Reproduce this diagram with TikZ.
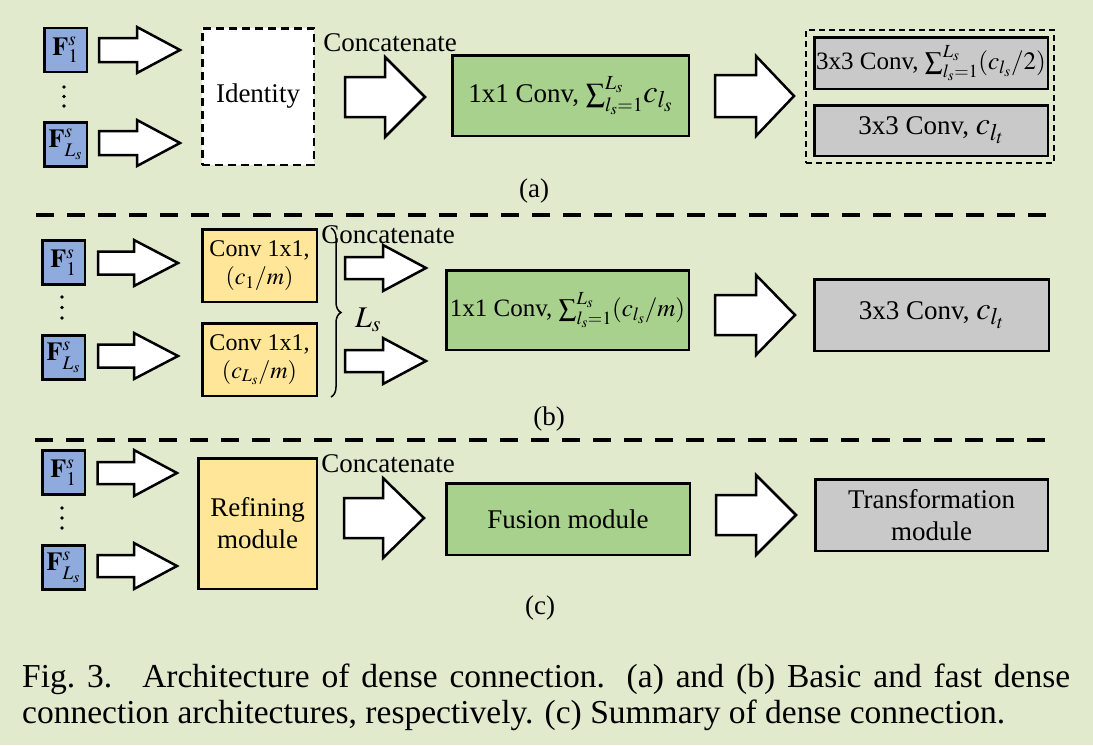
\documentclass[tikz,border=0pt]{standalone}
\usepackage{mathptmx}
\usepackage{fontspec}
\setmainfont{Liberation Serif}
\usetikzlibrary{decorations.pathreplacing}
\definecolor{bgc}{HTML}{E2EACE}
\definecolor{blueF}{HTML}{8FAADC}
\definecolor{greenF}{HTML}{A9D18E}
\definecolor{yellowF}{HTML}{FFE699}
\definecolor{grayF}{HTML}{C9C9C9}
\newcommand\blkarrow[6]{\draw[barrow] (#1,{#4-#5}) -- (#2,{#4-#5}) -- (#2,{#4-#6}) -- (#3,#4) -- (#2,{#4+#6}) -- (#2,{#4+#5}) -- (#1,{#4+#5}) -- cycle;}
\newcommand\bigc[1]{{\fontsize{32}{36}\selectfont$c_{#1}$}}
\newcommand\FLs{$\mathbf{F}^{s}_{\raisebox{-3pt}{$\scriptstyle L_s$}}$}
\tikzset{
  box/.style={draw=black, line width=2.5pt, inner sep=0pt, align=center, font=\fontsize{27}{32}\selectfont},
  bluebox/.style={box, fill=blueF, minimum width=42.5pt, minimum height=44pt, font=\fontsize{26}{30}\selectfont},
  greenbox/.style={box, fill=greenF},
  yellowbox/.style={box, fill=yellowF},
  graybox/.style={box, fill=grayF},
  identbox/.style={box, fill=white, dash pattern=on 8pt off 5pt},
  outerdash/.style={draw=black, line width=1.8pt, dash pattern=on 6pt off 4pt, inner sep=0pt},
  barrow/.style={draw=black, fill=white, line width=2.5pt, line join=miter},
  lbl/.style={inner sep=0pt, font=\fontsize{27}{32}\selectfont},
  sep/.style={line width=4.5pt, dash pattern=on 18pt off 13pt},
  dotf/.style={fill=black},
  brc/.style={decorate, decoration={brace, amplitude=10pt}, line width=1.5pt},
}
\begin{document}
\begin{tikzpicture}[x=1pt,y=-1pt]
\fill[bgc] (0,0) rectangle (1093,745);
\useasboundingbox (0,0) rectangle (1093,745);

% ---------------- (a)
\node[bluebox] (a1) at (65.5,50) {$\mathbf{F}^{s}_{1}$};
\node[bluebox] (aL) at (65.5,144.5) {\FLs};
\foreach \yy in {87,96.5,106} \fill[dotf] (64,\yy) circle (1.8);
\blkarrow{99}{137}{180}{50}{12}{23}
\blkarrow{99}{137}{180}{143}{12}{23}
\node[identbox, minimum width=111.5pt, minimum height=136.5pt] (aid) at (258,96.5) {Identity};
\node[lbl, anchor=base] (acat) at (390,51) {Concatenate};
\blkarrow{345}{385}{425}{97}{20}{40}
\node[greenbox, minimum width=236.5pt, minimum height=80.5pt] (agr) at (570.5,95.5) {1x1 Conv, $\textstyle\sum_{l_s=1}^{L_s}$\bigc{l_s}};
\blkarrow{715}{756}{794}{96}{21}{40}
\node[outerdash, minimum width=248pt, minimum height=133pt] (aout) at (930,96.5) {};
\node[graybox, minimum width=233.5pt, minimum height=51.5pt, font=\fontsize{25}{30}\selectfont] (ag1) at (931,63) {3x3 Conv, $\textstyle\sum_{l_s=1}^{L_s}(c_{l_s}/2)$};
\node[graybox, minimum width=233.5pt, minimum height=50.5pt] (ag2) at (931,130.5) {3x3 Conv, \bigc{l_t}};
\node[lbl, anchor=base] (alab) at (534,197) {(a)};

\draw[sep] (36,215) -- (1055,215);

% ---------------- (b)
\node[bluebox] (b1) at (63.5,262.5) {$\mathbf{F}^{s}_{1}$};
\node[bluebox] (bL) at (63.5,357.5) {\FLs};
\foreach \yy in {297,307.5,318} \fill[dotf] (62,\yy) circle (1.8);
\blkarrow{98}{134}{178}{263}{11.5}{23}
\blkarrow{98}{134}{178}{356}{11.5}{23}
\node[yellowbox, minimum width=114.5pt, minimum height=72.5pt, font=\fontsize{24}{28}\selectfont] (by1) at (259.5,265.5) {Conv 1x1,\\$(c_1/m)$};
\node[yellowbox, minimum width=114.5pt, minimum height=72.5pt, font=\fontsize{24}{28}\selectfont] (by2) at (259.5,359.5) {Conv 1x1,\\$(c_{L_s}/m)$};
\coordinate (bbt) at (331,228);
\coordinate (bbb) at (331,397);
\draw[brc] (bbt) -- (bbb);
\node[lbl, font=\fontsize{30}{34}\selectfont] (bLs) at (368,320) {$L_s$};
\node[lbl, anchor=base] (bcat) at (388,243) {Concatenate};
\blkarrow{345}{383}{426}{268}{11}{23}
\blkarrow{345}{383}{426}{361}{11}{23}
\node[greenbox, minimum width=242.5pt, minimum height=79.5pt, font=\fontsize{25}{30}\selectfont] (bgr) at (567.5,310) {1x1 Conv, $\textstyle\sum_{l_s=1}^{L_s}(c_{l_s}/m)$};
\blkarrow{715}{756}{795}{315}{20}{40}
\node[graybox, minimum width=234.5pt, minimum height=71.5pt] (bg) at (931.5,315) {3x3 Conv, \bigc{l_t}};
\node[lbl, anchor=base] (blab) at (549,425) {(b)};

\draw[sep] (35,440) -- (1051,440);

% ---------------- (c)
\node[bluebox] (c1) at (63.5,472.5) {$\mathbf{F}^{s}_{1}$};
\node[bluebox] (cL) at (63.5,567.5) {\FLs};
\foreach \yy in {508,518,528} \fill[dotf] (62,\yy) circle (1.8);
\blkarrow{97.5}{134}{177}{473}{11}{23}
\blkarrow{97.5}{134}{177}{566}{11}{23}
\node[yellowbox, minimum width=118.5pt, minimum height=130.5pt] (cy) at (257.5,523.5) {Refining\\module};
\node[lbl, anchor=base] (ccat) at (388,472) {Concatenate};
\blkarrow{344}{383}{424}{518}{20}{40}
\node[greenbox, minimum width=243.5pt, minimum height=71.5pt] (cgr) at (568,519) {Fusion module};
\blkarrow{716}{756}{796}{515}{20}{40}
\node[graybox, minimum width=232.5pt, minimum height=71.5pt] (cg) at (931.5,515) {Transformation\\module};
\node[lbl, anchor=base] (clab) at (540,614) {(c)};

% ---------------- caption
\node[inner sep=0pt, anchor=base west, font=\fontsize{33.5}{38}\selectfont] (cap1) at (22,687)
  {\makebox[1048pt][s]{Fig.~3.\hspace{30pt}Architecture of dense connection. (a) and (b) Basic and fast dense}};
\node[inner sep=0pt, anchor=base west, font=\fontsize{33.5}{38}\selectfont] (cap2) at (22,723)
  {connection architectures, respectively. (c) Summary of dense connection.};
\end{tikzpicture}
\end{document}
